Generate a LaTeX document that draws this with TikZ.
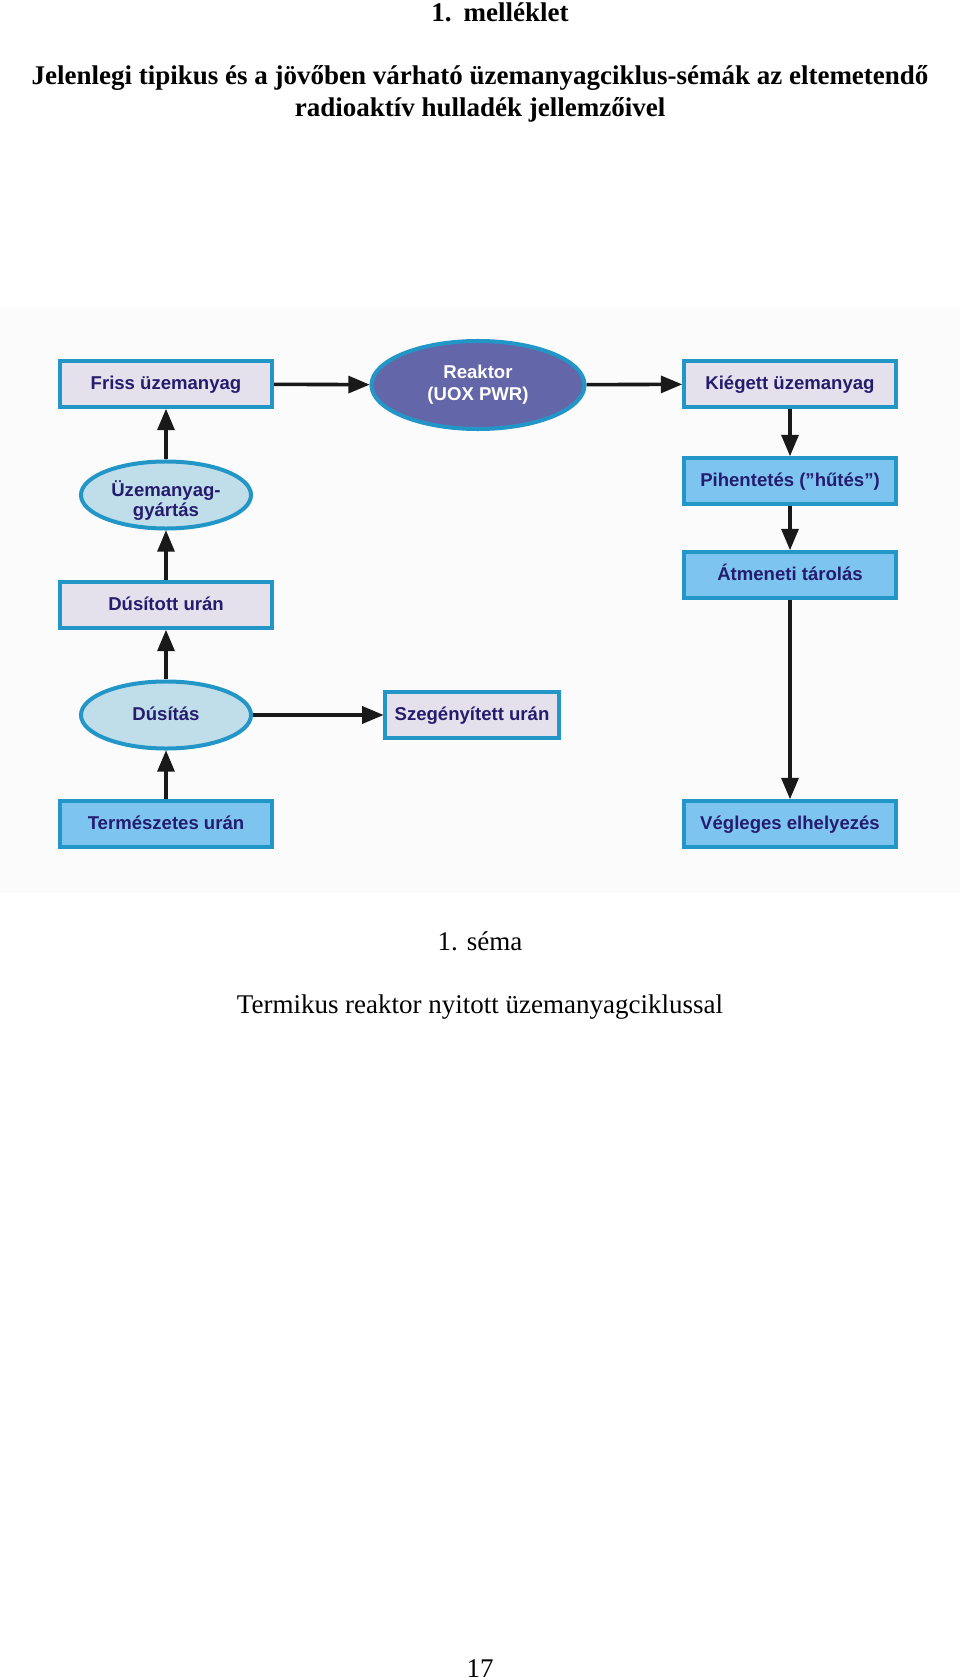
\documentclass[tikz,border=0pt]{standalone}
\usepackage{fontspec}
\setmainfont{Liberation Serif}
\setsansfont{Liberation Sans}
\usetikzlibrary{arrows,shapes.geometric}

\definecolor{boxline}{RGB}{35,150,200}
\definecolor{lilac}{RGB}{228,224,236}
\definecolor{skyblue}{RGB}{125,197,240}
\definecolor{paleblue}{RGB}{192,222,234}
\definecolor{reactorblue}{RGB}{100,102,170}
\definecolor{navytext}{RGB}{38,28,110}

\begin{document}
\begin{tikzpicture}[x=0.025cm,y=-0.025cm]
\tikzstyle{every node}=[font=\sffamily\bfseries\fontsize{13.2}{14.2}\selectfont,text=navytext]
\tikzstyle{matbox}=[draw=boxline,line width=0.1cm,fill=lilac,minimum width=5.3cm,
  minimum height=1.15cm,inner sep=0pt,text height=0.94em,text depth=0.22em]
\tikzstyle{stepbox}=[matbox,fill=skyblue]
\tikzstyle{process}=[ellipse,draw=boxline,line width=0.1cm,fill=paleblue,
  minimum width=4.25cm,minimum height=1.675cm,inner sep=1pt,align=center]
\tikzstyle{flow}=[draw=black!90,line width=.09cm,-triangle 45]
\tikzstyle{pagetext}=[font=\fontsize{19.2}{22.8}\selectfont,text=black,anchor=base]
\tikzstyle{headtext}=[pagetext,font=\bfseries\fontsize{19.2}{22.8}\selectfont]

\useasboundingbox (0,0) rectangle (960,1680);
%faint background of the scheme
\fill[black!1.5] (0,308) rectangle (960,893);

%headings of the page
\node[headtext] (annex) at (500,22) {1.\hspace{0.45em}melléklet};
\node[headtext] (title1) at (480,85) {Jelenlegi tipikus és a jövőben várható üzemanyagciklus-sémák az eltemetendő};
\node[headtext] (title2) at (480,117) {radioaktív hulladék jellemzőivel};

%left column: from natural uranium to fresh fuel
\node[matbox] (friss) at (166,384) {Friss üzemanyag};
\node[process] (gyartas) at (166,495)
  {\raisebox{-4.6pt}[\height][\depth]{\begin{tabular}{@{}c@{}}Üzemanyag-\\gyártás\end{tabular}}};
\node[matbox] (dusitott) at (166,605) {Dúsított urán};
\node[process,text height=0.94em,text depth=0.22em] (dusitas) at (166,715) {Dúsítás};
\node[stepbox] (termeszetes) at (166,824) {Természetes urán};

%reactor and depleted uranium
\node[process,fill=reactorblue,text=white,minimum width=5.325cm,minimum height=2.2cm,
  font=\sffamily\bfseries\fontsize{13.2}{15.6}\selectfont] (reaktor) at (478,385) {Reaktor\\(UOX PWR)};
\node[matbox,minimum width=4.33cm] (szegeny) at (472,715) {Szegényített urán};

%right column: spent fuel to disposal
\node[matbox] (kiegett) at (790,384) {Kiégett üzemanyag};
\node[stepbox] (pihentetes) at (790,481) {Pihentetés (”hűtés”)};
\node[stepbox] (atmeneti) at (790,575) {Átmeneti tárolás};
\node[stepbox] (vegleges) at (790,824) {Végleges elhelyezés};

%arrows of the cycle
\draw[flow] (termeszetes) -- (dusitas);
\draw[flow] (dusitas) -- (dusitott);
\draw[flow] (dusitott) -- (gyartas);
\draw[flow] (gyartas) -- (friss);
\draw[flow] (dusitas) -- (szegeny);
\draw[flow] (friss) -- (reaktor);
\draw[flow] (reaktor) -- (kiegett);
\draw[flow] (kiegett) -- (pihentetes);
\draw[flow] (pihentetes) -- (atmeneti);
\draw[flow] (atmeneti) -- (vegleges);

%caption and page number
\node[pagetext] (sema) at (480,950) {1. séma};
\node[pagetext] (caption) at (480,1013) {Termikus reaktor nyitott üzemanyagciklussal};
\node[pagetext] (pagenum) at (480,1677) {17};
\end{tikzpicture}
\end{document}
